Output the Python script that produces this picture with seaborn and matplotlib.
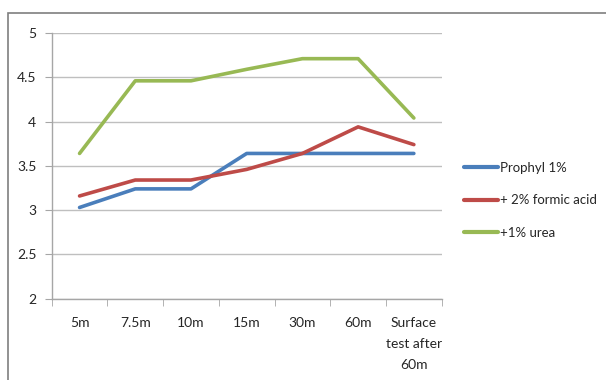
import pandas as pd
import matplotlib.pyplot as plt
import seaborn as sns
from matplotlib.patches import Rectangle

# times on the x axis
times = ['5m', '7.5m', '10m', '15m', '30m', '60m', 'Surface\ntest after\n60m']

# values
prophyl = [3.03, 3.24, 3.24, 3.64, 3.64, 3.64, 3.64]
formic = [3.16, 3.34, 3.34, 3.46, 3.64, 3.94, 3.74]
urea = [3.64, 4.46, 4.46, 4.59, 4.71, 4.71, 4.04]

series_names = ['Prophyl 1%', '+ 2% formic acid', '+1% urea']
colors = ['#4A7EBB', '#BE4B48', '#98B954']


def build_frame():
    rows = []
    for name, vals in zip(series_names, [prophyl, formic, urea]):
        for i, v in enumerate(vals):
            rows.append({'pos': i, 'value': v, 'series': name})
    return pd.DataFrame(rows)


def main():
    sns.set_style('white')
    plt.rcParams['font.family'] = ['Lato', 'DejaVu Sans']

    df = build_frame()
    fig = plt.figure(figsize=(6.06, 3.8), dpi=100)
    # outer chart-area border (runs off the right/bottom edge like the original)
    fig.patches.append(Rectangle((8 / 606, -0.1), 1.0, 1 - 13 / 380 + 0.1,
                                 transform=fig.transFigure, fill=False,
                                 edgecolor='#7f7f7f', linewidth=1.2))
    ax = fig.add_axes([0.0853, 0.2139, 0.6436, 0.6993])

    sns.lineplot(data=df, x='pos', y='value', hue='series',
                 palette=colors, linewidth=2.6, ax=ax, legend=True)

    ax.set_xlim(-0.5, len(times) - 0.5)
    ax.set_ylim(2, 5)
    ax.set_yticks([2, 2.5, 3, 3.5, 4, 4.5, 5])
    ax.set_yticklabels(['2', '2.5', '3', '3.5', '4', '4.5', '5'])
    ax.set_xticks(range(len(times)))
    ax.set_xticklabels(times, linespacing=1.9)
    ax.set_xticks([i - 0.5 for i in range(len(times) + 1)], minor=True)
    ax.tick_params(axis='x', which='major', length=0, pad=13,
                   labelsize=10, colors='#262626')
    ax.tick_params(axis='x', which='minor', length=5, direction='out',
                   color='#a6a6a6', bottom=True)
    ax.tick_params(axis='y', length=5, direction='out', color='#a6a6a6',
                   left=True, labelsize=10, colors='#262626', pad=6)
    ax.yaxis.grid(True, color='#bfbfbf', linewidth=1)
    ax.set_axisbelow(True)

    for side in ['top', 'right']:
        ax.spines[side].set_visible(False)
    for side in ['left', 'bottom']:
        ax.spines[side].set_color('#a6a6a6')
        ax.spines[side].set_linewidth(1)

    ax.set_xlabel('')
    ax.set_ylabel('')

    leg = ax.legend(loc='upper left', bbox_to_anchor=(1.027, 0.56),
                    frameon=False, fontsize=9.5, handlelength=2.6,
                    handletextpad=0.1, labelspacing=1.55)
    for line in leg.get_lines():
        line.set_linewidth(3)

    fig.savefig('out.png', dpi=100)


if __name__ == "__main__":
    main()
